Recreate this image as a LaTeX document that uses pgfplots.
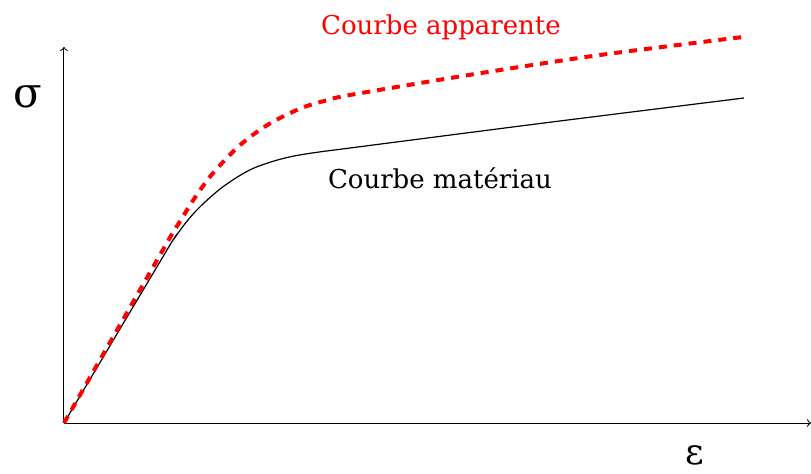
\documentclass[border=0pt]{standalone}
\usepackage{fontspec}
\setmainfont{DejaVu Serif}
\usepackage{pgfplots}
\pgfplotsset{compat=1.18}
\begin{document}
\begin{tikzpicture}
\begin{axis}[
  scale only axis, width=373.5pt, height=188pt,
  xmin=0, xmax=747, ymin=0, ymax=376,
  axis lines=left, axis line style={line width=0.5pt, ->},
  xtick=\empty, ytick=\empty,
  clip=false
]
% courbe matériau
\addplot[black, line width=0.6pt, smooth] coordinates {
  (0,0) (100,168) (110,184) (120,198) (130,210) (140,220) (150,229)
  (160,237) (175,247) (190,255) (210,262) (230,267) (255,271) (286,275)
  (480,300) (680,325)};
% courbe apparente
\addplot[red, line width=2pt, dash pattern=on 4pt off 3.5pt, smooth] coordinates {
  (0,0) (100,175) (115,200) (130,224) (145,245) (160,262) (175,277)
  (190,289) (205,299) (220,307) (240,316) (260,322) (286,328)
  (411,349) (536,368) (679,386)};
\node[red, font=\fontsize{13}{15}\selectfont] at (axis cs:377,396) {Courbe apparente};
\node[black, font=\fontsize{13}{15}\selectfont] at (axis cs:376,245) {Courbe matériau};
\node[font=\fontsize{21}{24}\selectfont] at (axis cs:-36,326) {σ};
\node[font=\fontsize{18}{21}\selectfont] at (axis cs:631,-32) {ε};
\coordinate (bl) at (axis cs:-64,-50);
\coordinate (tr) at (axis cs:747,423);
\end{axis}
\pgfresetboundingbox
\path (bl) rectangle (tr);
\end{tikzpicture}
\end{document}
